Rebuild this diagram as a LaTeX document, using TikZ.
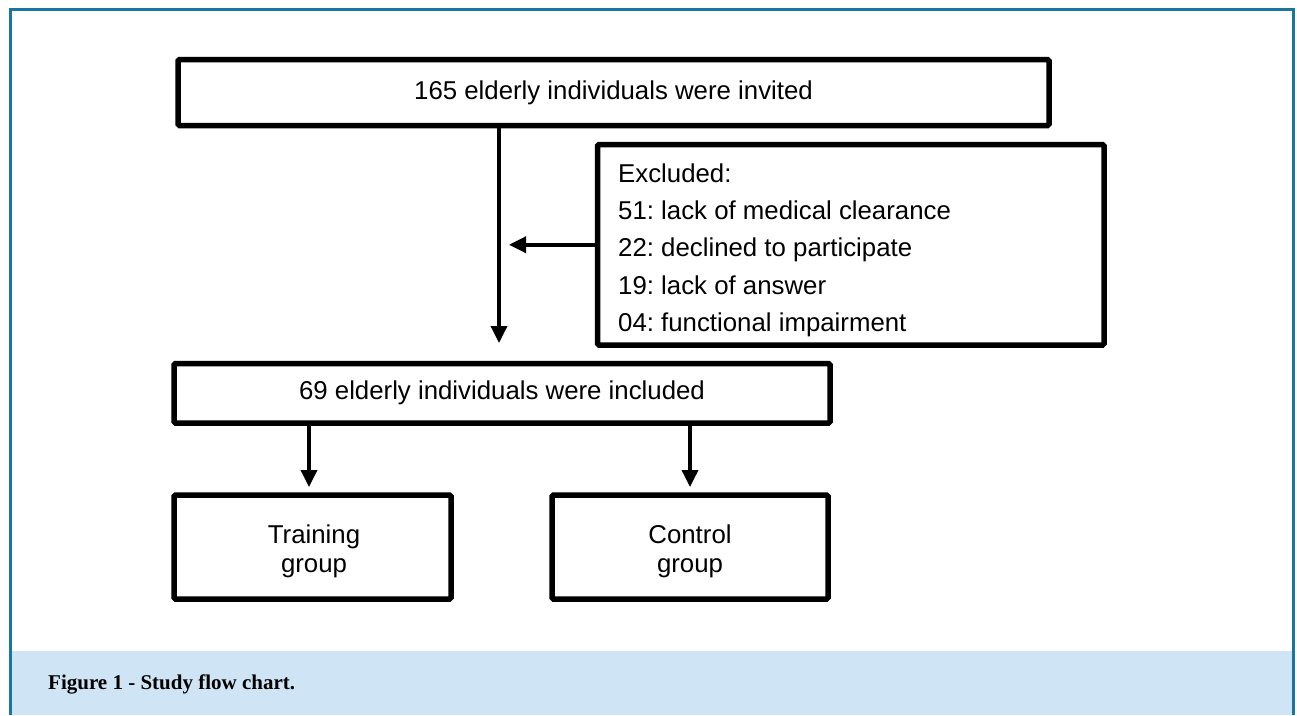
\documentclass[tikz,border=0pt]{standalone}
\usepackage{fontspec}
\setmainfont{Liberation Sans}
\newfontfamily\capfont{Liberation Serif}
\usetikzlibrary{arrows.meta}
\definecolor{frameblue}{RGB}{24,118,160}
\definecolor{capband}{RGB}{207,229,245}
\frenchspacing
\begin{document}
\begin{tikzpicture}[x=1pt,y=-1pt,
  box/.style={draw=black, line width=5.5pt, rounded corners=1.5pt, fill=white, inner sep=0pt,
              font=\fontsize{25.8}{29}\selectfont},
  boxtext/.style={inner sep=0pt, align=center, font=\fontsize{25.8}{29}\selectfont},
  arr/.style={draw=black, line width=3.5pt, -{Triangle[length=17pt,width=16pt]}},
  captext/.style={anchor=base west, inner sep=0pt, font=\capfont\bfseries\fontsize{21}{25}\selectfont},
  listtext/.style={anchor=north west, inner sep=0pt, align=left, font=\fontsize{25.8}{37.25}\selectfont}
]
\useasboundingbox (0,0) rectangle (1297,715);
% frame and caption band
\fill[capband] (11.5,651) rectangle (1291.5,715);
\draw[frameblue, line width=3pt] (10,715) -- (10,9) -- (1293,9) -- (1293,715);
\node[captext] (cap) at (48,689) {Figure 1 - Study flow chart.};

% boxes
\node[box, minimum width=871pt, minimum height=66pt] (top) at (613.5,92.5) {165 elderly individuals were invited};
\node[box, minimum width=506.5pt, minimum height=200.5pt] (excl) at (850.75,244.75) {};
\node[listtext] (excltext) at (618,163.5) {Excluded:\\51: lack of medical clearance\\22: declined to participate\\19: lack of answer\\04: functional impairment};
\node[box, minimum width=656pt, minimum height=59.5pt] (incl) at (502,393.25) {69 elderly individuals were included};
\node[box, minimum width=277pt, minimum height=104pt] (train) at (312.5,547) {};
\node[boxtext] (traintext) at (314,551) {Training\\group};
\node[box, minimum width=276pt, minimum height=104pt] (ctrl) at (690,547) {};
\node[boxtext] (ctrltext) at (690,551) {Control\\group};

% connectors
\coordinate (vx) at (499,0);
\coordinate (tx) at (309,0);
\draw[arr, shorten >=17.75pt] (top.south -| vx) -- (incl.north -| vx);
\draw[arr, shorten >=10pt] (excl.west) -- (excl.west -| vx);
\draw[arr, shorten >=5.25pt] (incl.south -| tx) -- (train.north -| tx);
\draw[arr, shorten >=5.25pt] (incl.south -| ctrl.north) -- (ctrl.north);
\end{tikzpicture}
\end{document}
